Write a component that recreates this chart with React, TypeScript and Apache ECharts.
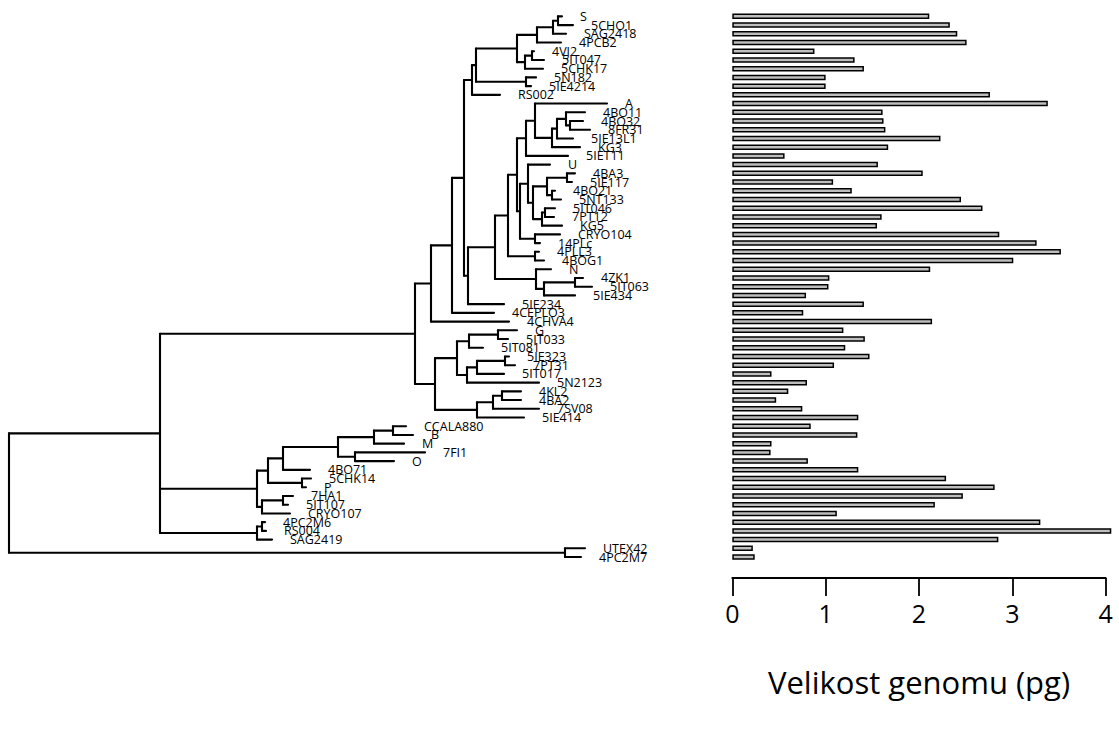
import React, { useEffect, useRef } from "react";
import * as echarts from "echarts";

// Tip labels, top to bottom
const tipNames = [
  "S", "5CHO1", "SAG2418", "4PCB2", "4VJ2", "5IT047", "5CHK17", "5N182", "5IE4214", "RS002",
  "A", "4BO11", "4BO32", "8FR31", "5IE13L1", "KG3", "5IET11", "U", "4BA3", "5IE117",
  "4BO21", "5NT133", "5IT046", "7PT12", "KG5", "CRYO104", "14PLc", "4PLL3", "4BOG1", "N",
  "4ZK1", "5IT063", "5IE434", "5IE234", "4CEPLO3", "4CHVA4", "G", "5IT033", "5IT081", "5IE323",
  "7PT31", "5IT017", "5N2123", "4KL2", "4BA2", "7SV08", "5IE414", "CCALA880", "B", "M",
  "7FI1", "O", "4BO71", "5CHK14", "P", "7HA1", "5IT107", "CRYO107", "4PC2M6", "RS004",
  "SAG2419", "UTEX42", "4PC2M7",
];

// Genome size (pg), same order as tipNames
const genomeSize = [
  2.11, 2.33, 2.41, 2.51, 0.88, 1.31, 1.41, 1.0, 1.0, 2.76,
  3.38, 1.61, 1.62, 1.64, 2.23, 1.67, 0.56, 1.56, 2.04, 1.08,
  1.28, 2.45, 2.68, 1.6, 1.55, 2.86, 3.26, 3.52, 3.01, 2.12,
  1.04, 1.03, 0.79, 1.41, 0.76, 2.14, 1.19, 1.42, 1.21, 1.47,
  1.09, 0.42, 0.8, 0.6, 0.47, 0.75, 1.35, 0.84, 1.34, 0.42,
  0.41, 0.81, 1.35, 2.29, 2.81, 2.47, 2.17, 1.12, 3.3, 4.06,
  2.85, 0.22, 0.24,
];

const xTicks = [0, 1, 2, 3, 4];
const axisTitle = "Velikost genomu (pg)";

// Tree in Newick form; the number after ":" is the node's depth from the root
const treeNewick = `(
 (
  (
   (
    (
     (
      (
       (
        ((((S:5.53,5CHO1:5.64):5.49,SAG2418:5.57):5.44,4PCB2:5.52):5.28,((4VJ2:5.25,5IT047:5.35):5.23,5CHK17:5.34):5.16):5.08,
        (5N182:5.27,5IE4214:5.22):5.17
       ):4.67,
       RS002:4.91
      ):4.63,
      (
       (
        (
         (
          ((A:5.98,(((4BO11:5.76,(4BO32:5.74,8FR31:5.81):5.61):5.57,5IE13L1:5.64):5.48,KG3:5.71):5.43):5.26,5IET11:5.59):5.17,
          (
           (U:5.41,(((4BA3:5.66,5IE117:5.63):5.58,(4BO21:5.46,5NT133:5.52):5.43):5.38,((5IT046:5.46,7PT12:5.45):5.36,KG5:5.53):5.33):5.24):5.19,
           (CRYO104:5.51,14PLc:5.31):5.26
          ):5.11
         ):5.08,
         (4PLL3:5.30,4BOG1:5.35):5.26
        ):4.99,
        (N:5.42,((4ZK1:5.74,5IT063:5.83):5.66,5IE434:5.66):5.35):5.27
       ):4.86,
       5IE234:4.95
      ):4.59
     ):4.55,
     4CEPLO3:4.85
    ):4.43,
    4CHVA4:5.0
   ):4.22,
   (
    (
     (((G:5.08,5IT033:4.99):4.89,5IT081:4.74):4.60,
     (((5IE323:5.00,7PT31:5.06):4.96,5IT017:4.95):4.68,5N2123:5.30):4.58):4.48,
     (((4KL2:5.12,4BA2:5.12):4.93,7SV08:5.30):4.84,5IE414:5.15):4.68
    ):4.26
   )
  ):4.06,
  (
   (
    ((((CCALA880:3.97,B:4.04):3.84,M:3.95):3.65,(7FI1:4.16,O:3.85):3.46):3.29,4BO71:3.01):2.74,
    (5CHK14:3.02,P:2.97):2.93
   ):2.59,
   ((7HA1:2.84,5IT107:2.79):2.74,CRYO107:2.81):2.53
  ):2.48,
  ((4PC2M6:2.56,RS004:2.57):2.53,SAG2419:2.63):2.48
 ):1.51,
 (UTEX42:5.76,4PC2M7:5.72):5.56
):0;`;

type TNode = { name?: string; depth: number; children?: TNode[]; y?: number };

function parseTree(src: string): TNode {
  const s = src.replace(/\s+/g, "");
  let i = 0;
  const readDepth = () => {
    if (s[i] === ":") {
      i++;
      let t = "";
      while (i < s.length && !",();".includes(s[i])) t += s[i++];
      return parseFloat(t);
    }
    return 0;
  };
  const node = (): TNode => {
    if (s[i] === "(") {
      i++;
      const children: TNode[] = [];
      while (true) {
        children.push(node());
        if (s[i] === ",") { i++; continue; }
        if (s[i] === ")") { i++; break; }
        break;
      }
      const d = readDepth();
      if (children.length === 1) return children[0];
      return { children, depth: d };
    }
    let name = "";
    while (i < s.length && !":,();".includes(s[i])) name += s[i++];
    return { name, depth: readDepth() };
  };
  return node();
}

function layoutTree(root: TNode) {
  const segs: number[][] = [];
  const tips: { name: string; depth: number; y: number }[] = [];
  let leaf = 0;
  const walk = (n: TNode): number => {
    if (!n.children) {
      n.y = leaf++;
      tips.push({ name: n.name || "", depth: n.depth, y: n.y });
      return n.y;
    }
    const ys = n.children.map(walk);
    n.y = (ys[0] + ys[ys.length - 1]) / 2;
    segs.push([n.depth, Math.min(...ys), n.depth, Math.max(...ys)]);
    n.children.forEach((c) => segs.push([n.depth, c.y as number, c.depth, c.y as number]));
    return n.y;
  };
  walk(root);
  return { segs, tips };
}

export default function App() {
  const ref = useRef<HTMLDivElement>(null);
  useEffect(() => {
    if (!ref.current) return;
    const chart = echarts.init(ref.current, undefined, { renderer: "svg" });
    const { segs, tips } = layoutTree(parseTree(treeNewick));
    const gridTop = 12;
    const gridHeight = 549.4;
    const font = "Open Sans";

    chart.setOption({
      animation: false,
      backgroundColor: "#ffffff",
      title: {
        text: axisTitle,
        left: 914,
        top: 661,
        textAlign: "center",
        textStyle: { fontSize: 31, fontWeight: "normal", color: "#000", fontFamily: font },
      },
      grid: [
        { left: 9, top: gridTop, width: 700, height: gridHeight, outerBoundsMode: "none" },
        { left: 732.3, top: gridTop, width: 373.4, height: gridHeight, outerBoundsMode: "none" },
      ],
      xAxis: [
        { gridIndex: 0, type: "value", min: 0, max: 7, show: false },
        {
          gridIndex: 1,
          type: "value",
          min: 0,
          max: 4,
          interval: 1,
          offset: 16.7,
          axisLine: { show: true, lineStyle: { color: "#000", width: 1.8 } },
          axisTick: { show: true, length: 18, lineStyle: { color: "#000", width: 1.8 } },
          axisLabel: {
            fontSize: 25,
            color: "#000",
            fontFamily: font,
            margin: 22,
            formatter: (v: number) => (xTicks.includes(v) ? String(v) : ""),
          },
          splitLine: { show: false },
        },
      ],
      yAxis: [
        { gridIndex: 0, type: "value", min: -0.5, max: tipNames.length - 0.5, inverse: true, show: false },
        { gridIndex: 1, type: "category", data: tipNames, inverse: true, show: false },
      ],
      series: [
        {
          type: "custom",
          xAxisIndex: 0,
          yAxisIndex: 0,
          clip: false,
          silent: true,
          data: segs,
          encode: { x: [0, 2], y: [1, 3] },
          renderItem: (_p: any, api: any) => {
            const a = api.coord([api.value(0), api.value(1)]);
            const b = api.coord([api.value(2), api.value(3)]);
            return {
              type: "line",
              shape: { x1: a[0], y1: a[1], x2: b[0], y2: b[1] },
              style: { stroke: "#000", lineWidth: 2.1, lineCap: "round" },
            };
          },
        },
        {
          type: "custom",
          xAxisIndex: 0,
          yAxisIndex: 0,
          clip: false,
          silent: true,
          data: tips.map((t) => [t.depth, t.y, t.name]),
          encode: { x: 0, y: 1 },
          renderItem: (_p: any, api: any) => {
            const p = api.coord([api.value(0), api.value(1)]);
            return {
              type: "text",
              x: p[0] + 18,
              y: p[1],
              style: {
                text: String(api.value(2)),
                fontSize: 12.5,
                fontFamily: font,
                fill: "#000",
                textAlign: "left",
                textVerticalAlign: "middle",
              },
            };
          },
        },
        {
          type: "bar",
          xAxisIndex: 1,
          yAxisIndex: 1,
          data: genomeSize,
          barWidth: 5.5,
          clip: false,
          itemStyle: { color: "#bebebe", borderColor: "#000", borderWidth: 1.5 },
        },
      ],
    });
    return () => chart.dispose();
  }, []);

  return (
    <div
      ref={ref}
      style={{ position: "fixed", left: 0, top: 0, width: 1119, height: 731, background: "#fff" }}
    />
  );
}
